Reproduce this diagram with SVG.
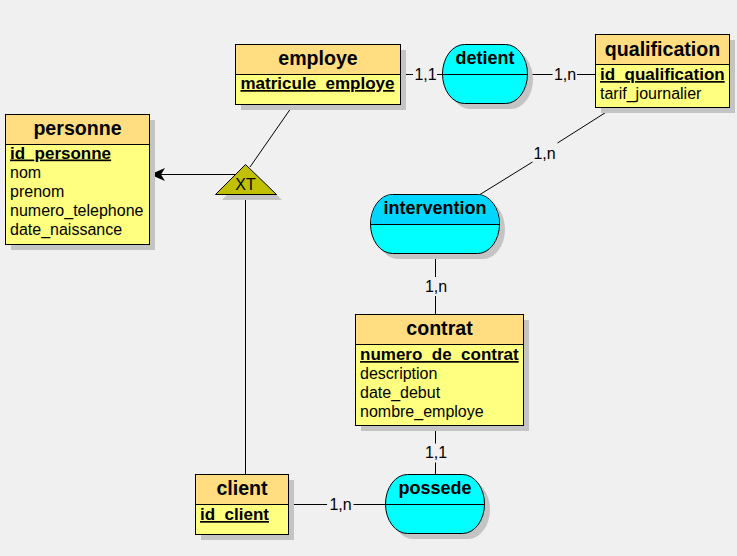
<svg xmlns="http://www.w3.org/2000/svg" width="737" height="556" viewBox="0 0 737 556">
<style>
.bg{fill:#f0f0f0}
.sh{fill:#c4c4c4}
.hdr{fill:#ffdd80;stroke:#000;stroke-width:1}
.body{fill:#ffff80;stroke:#000;stroke-width:1}
.rel{fill:#00ffff;stroke:#000;stroke-width:1}
.relh{fill:#00d6ff;stroke:none}
.ln{stroke:#000;stroke-width:1;fill:none}
.hd{font-family:"Liberation Sans",Arial,sans-serif;font-weight:bold;font-size:19.6px;text-anchor:middle;fill:#000}
.pk{font-family:"Liberation Sans",Arial,sans-serif;font-weight:bold;font-size:17px;text-decoration:underline;fill:#000}
.at{font-family:"Liberation Sans",Arial,sans-serif;font-size:16px;fill:#000}
.rn{font-family:"Liberation Sans",Arial,sans-serif;font-weight:bold;font-size:18px;text-anchor:middle;fill:#000}
.cd{font-family:"Liberation Sans",Arial,sans-serif;font-size:16px;text-anchor:middle;fill:#000}
</style>
<defs>
<marker id="arr" markerUnits="userSpaceOnUse" markerWidth="15" markerHeight="13" viewBox="0 0 15 13" refX="15" refY="6.5" orient="auto">
<path d="M0,0 L15,6.5 L0,13 L4,6.5 Z" fill="#000"/>
</marker>
</defs>
<rect class="bg" x="0" y="0" width="737" height="556"/>

<g id="connectors">
<line class="ln" x1="236" y1="174.5" x2="150" y2="174.5" marker-end="url(#arr)"/>
<line class="ln" x1="293.5" y1="104.5" x2="250" y2="167"/>
<line class="ln" x1="245.5" y1="194" x2="245.5" y2="474.5"/>
<line class="ln" x1="400.5" y1="74.5" x2="413" y2="74.5"/>
<line class="ln" x1="437" y1="74.5" x2="442.5" y2="74.5"/>
<text class="cd" x="425.5" y="79.5">1,1</text>
<line class="ln" x1="527.5" y1="74.5" x2="552.5" y2="74.5"/>
<line class="ln" x1="577" y1="74.5" x2="595.5" y2="74.5"/>
<text class="cd" x="565" y="79.5">1,n</text>
<line class="ln" x1="613.5" y1="107.5" x2="557.5" y2="143"/>
<line class="ln" x1="532.5" y1="162" x2="480" y2="194.5"/>
<text class="cd" x="544.5" y="159">1,n</text>
<line class="ln" x1="435.5" y1="253.5" x2="435.5" y2="277"/>
<line class="ln" x1="435.5" y1="296" x2="435.5" y2="314.5"/>
<text class="cd" x="436" y="292">1,n</text>
<line class="ln" x1="435.5" y1="425.5" x2="435.5" y2="443.5"/>
<line class="ln" x1="435.5" y1="462.5" x2="435.5" y2="474.5"/>
<text class="cd" x="436" y="458">1,1</text>
<line class="ln" x1="288.5" y1="504.5" x2="327" y2="504.5"/>
<line class="ln" x1="353.5" y1="504.5" x2="385.5" y2="504.5"/>
<text class="cd" x="340.5" y="510">1,n</text>
</g>

<g id="xt">
<polygon class="sh" points="251,170 282,200 222,200"/>
<polygon points="245.5,164.5 276.5,194.5 215.5,194.5" fill="#c0c000" stroke="#000" stroke-width="1"/>
<text x="245.5" y="189.5" text-anchor="middle" font-family="Liberation Sans, Arial, sans-serif" font-size="16" fill="#000">XT</text>
</g>

<g id="personne">
<rect class="sh" x="11" y="120" width="144" height="130"/>
<rect class="body" x="5.5" y="114.5" width="144" height="130"/>
<rect class="hdr" x="5.5" y="114.5" width="144" height="30"/>
<text class="hd" x="77.5" y="135">personne</text>
<text class="pk" x="10" y="158.5">id_personne</text>
<text class="at" x="10" y="177.5">nom</text>
<text class="at" x="10" y="196.5">prenom</text>
<text class="at" x="10" y="215.5">numero_telephone</text>
<text class="at" x="10" y="234.5">date_naissance</text>
</g>

<g id="employe">
<rect class="sh" x="241" y="50" width="165" height="60"/>
<rect class="body" x="235.5" y="44.5" width="165" height="60"/>
<rect class="hdr" x="235.5" y="44.5" width="165" height="30"/>
<text class="hd" x="318" y="65">employe</text>
<text class="pk" x="240.5" y="89">matricule_employe</text>
</g>

<g id="qualification">
<rect class="sh" x="601" y="40" width="134" height="73"/>
<rect class="body" x="595.5" y="34.5" width="134" height="73"/>
<rect class="hdr" x="595.5" y="34.5" width="134" height="30"/>
<text class="hd" x="662.5" y="56">qualification</text>
<text class="pk" x="600" y="80">id_qualification</text>
<text class="at" x="600" y="98.5">tarif_journalier</text>
</g>

<g id="contrat">
<rect class="sh" x="361" y="320" width="168" height="111"/>
<rect class="body" x="355.5" y="314.5" width="168" height="111"/>
<rect class="hdr" x="355.5" y="314.5" width="168" height="30"/>
<text class="hd" x="439.5" y="335">contrat</text>
<text class="pk" x="360" y="360">numero_de_contrat</text>
<text class="at" x="360" y="379">description</text>
<text class="at" x="360" y="398">date_debut</text>
<text class="at" x="360" y="417">nombre_employe</text>
</g>

<g id="client">
<rect class="sh" x="201" y="480" width="93" height="60"/>
<rect class="body" x="195.5" y="474.5" width="93" height="60"/>
<rect class="hdr" x="195.5" y="474.5" width="93" height="30"/>
<text class="hd" x="242" y="495">client</text>
<text class="pk" x="200" y="520">id_client</text>
</g>

<g id="detient">
<rect class="sh" x="448" y="50" width="85" height="59" rx="22" ry="29.5"/>
<rect class="rel" x="442.5" y="44.5" width="85" height="59" rx="22" ry="29.5"/>
<line class="ln" x1="442.5" y1="74.5" x2="527.5" y2="74.5"/>
<text class="rn" x="485" y="64">detient</text>
</g>

<g id="intervention">
<rect class="sh" x="376" y="200" width="129" height="59" rx="22" ry="29.5"/>
<rect class="rel" x="370.5" y="194.5" width="129" height="59" rx="22" ry="29.5"/>
<path class="relh" d="M371,224.5 A21.5,29.5 0 0 1 392.5,195 L477.5,195 A21.5,29.5 0 0 1 499,224.5 Z"/>
<line class="ln" x1="370.5" y1="224.5" x2="499.5" y2="224.5"/>
<text class="rn" x="435" y="214">intervention</text>
</g>

<g id="possede">
<rect class="sh" x="391" y="480" width="99" height="59" rx="22" ry="29.5"/>
<rect class="rel" x="385.5" y="474.5" width="99" height="59" rx="22" ry="29.5"/>
<line class="ln" x1="385.5" y1="504.5" x2="484.5" y2="504.5"/>
<text class="rn" x="435" y="494">possede</text>
</g>
</svg>
